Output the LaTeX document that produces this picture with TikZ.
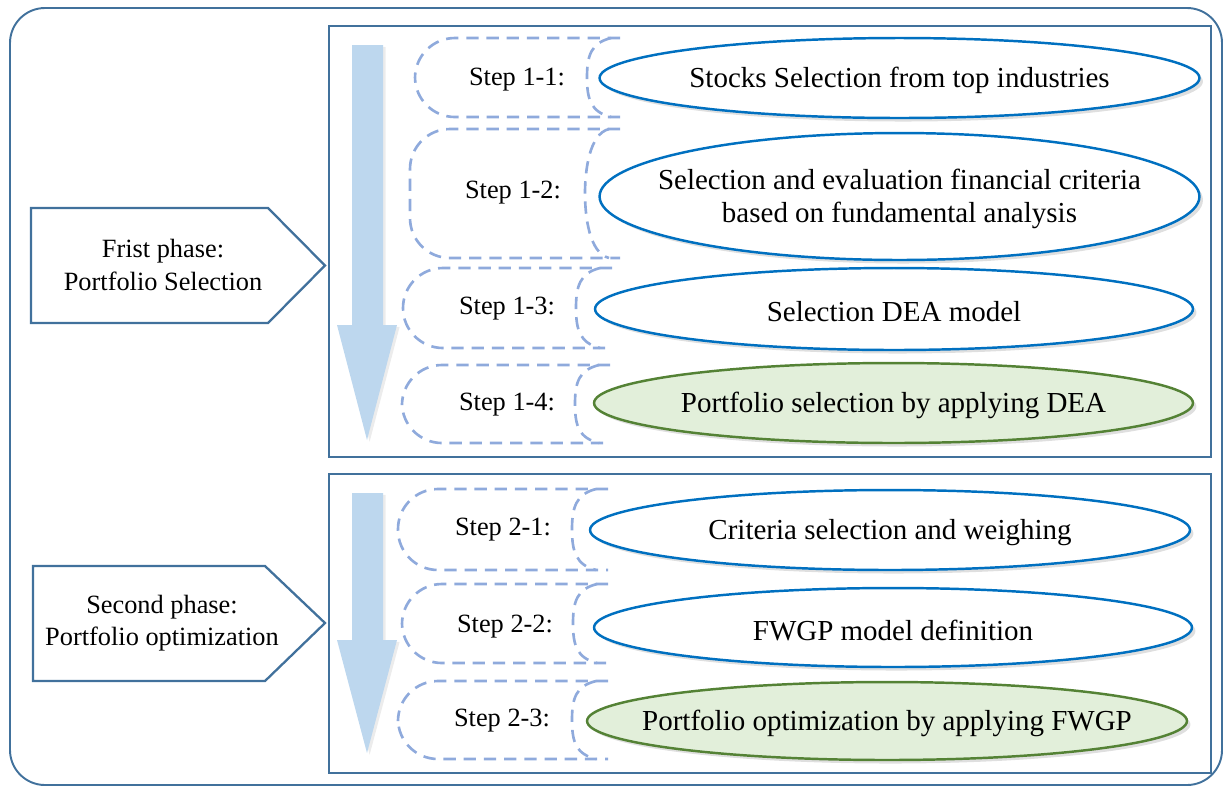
\documentclass[tikz,border=0pt]{standalone}
\usepackage{fontspec}
\setmainfont{Liberation Serif}
\usetikzlibrary{shapes.geometric,shadows}
\definecolor{panelblue}{RGB}{65,113,156}
\definecolor{ovalblue}{RGB}{0,112,192}
\definecolor{dashblue}{RGB}{143,170,220}
\definecolor{arrowfill}{RGB}{189,215,238}
\definecolor{ovalgreen}{RGB}{84,130,53}
\definecolor{greenfill}{RGB}{226,239,218}
\tikzset{
  panel/.style={draw=panelblue, line width=1.6pt},
  phasebox/.style={draw=panelblue, line width=1.3pt, fill=white},
  phasetext/.style={align=center, font=\fontsize{15}{18.5}\selectfont},
  downarrow/.style={fill=arrowfill, draw=none,
    drop shadow={shadow xshift=1.5pt, shadow yshift=-1pt, opacity=.15}},
  tabline/.style={draw=dashblue, line width=1.5pt,
    dash pattern=on 7pt off 4.5pt, rounded corners=0.8cm},
  arcline/.style={draw=dashblue, line width=1.5pt,
    dash pattern=on 7pt off 4.5pt},
  steplabel/.style={font=\fontsize{15}{18}\selectfont},
  tasktext/.style={align=center, yshift=-1.5pt, font=\fontsize{16.5}{18.5}\selectfont},
  task/.style={ellipse, draw=ovalblue, line width=1.4pt, fill=white,
    inner sep=0pt, minimum width=12cm, minimum height=1.6cm,
    drop shadow={shadow xshift=2pt, shadow yshift=-2pt, opacity=.25},
    label={[tasktext]center:#1}},
  result/.style={task={#1}, draw=ovalgreen, fill=greenfill}
}
% left, top, bottom, inner arc x, right
\newcommand{\steptab}[5]{%
  \draw[tabline] (#5,#2) -- (#1,#2) -- (#1,#3) -- (#5,#3);
  \draw[arcline] ({#4+24},#2) .. controls ({#4+4},{#2+5}) and (#4,{(#2+#3)/2-22})
    .. (#4,{(#2+#3)/2}) .. controls (#4,{(#2+#3)/2+22}) and ({#4+4},{#3-5}) .. ({#4+24},#3);
}
\begin{document}
\begin{tikzpicture}[x=0.02cm, y=-0.02cm]
  \useasboundingbox (0,0) rectangle (1226,789);
  % frame and panels
  \draw[draw=panelblue, line width=1.1pt, rounded corners=0.7cm] (10,8) rectangle (1222,785);
  \draw[panel] (329,26) rectangle (1211,457);
  \draw[panel] (329,474) rectangle (1211,773);

  % phases
  \draw[phasebox] (31,208) -- (268,208) -- (325,265.5) -- (268,323) -- (31,323) -- cycle;
  \node[phasetext] (phaseA) at (163,265) {Frist phase:\\Portfolio Selection};
  \draw[phasebox] (33,566) -- (265,566) -- (325,623) -- (265,681) -- (33,681) -- cycle;
  \node[phasetext] (phaseB) at (162,623) {Second phase:\\Portfolio optimization};

  % down arrows
  \fill[downarrow] (352,45) -- (383,45) -- (383,325) -- (397,325) -- (367,440)
    -- (337,325) -- (352,325) -- cycle;
  \fill[downarrow] (352,493) -- (383,493) -- (383,640) -- (397,640) -- (367,753)
    -- (337,640) -- (352,640) -- cycle;

  % dashed step tabs
  \steptab{415}{38}{117}{587}{620}
  \steptab{410}{129}{258}{585}{620}
  \steptab{403}{268}{348}{576}{612}
  \steptab{402}{365}{443}{575}{610}
  \steptab{398}{489}{570}{572}{608}
  \steptab{402}{584}{663}{573}{608}
  \steptab{398}{681}{759}{572}{608}

  % first phase steps
  \node[steplabel] (s11) at (517,80) {Step 1-1:};
  \node[task={Stocks Selection from top industries}] (t11) at (899.5,78) {};
  \node[steplabel] (s12) at (513,193) {Step 1-2:};
  \node[task={Selection and evaluation financial criteria\\based on fundamental analysis},
    minimum height=2.54cm] (t12) at (899.5,196.5) {};
  \node[steplabel] (s13) at (507,309) {Step 1-3:};
  \node[task={Selection DEA model}, minimum width=11.96cm, minimum height=1.64cm] (t13) at (894,309) {};
  \node[steplabel] (s14) at (507,405) {Step 1-4:};
  \node[result={Portfolio selection by applying DEA}, minimum width=11.98cm] (t14) at (893.5,403) {};

  % second phase steps
  \node[steplabel] (s21) at (503,530) {Step 2-1:};
  \node[task={Criteria selection and weighing}] (t21) at (890,530) {};
  \node[steplabel] (s22) at (505,627) {Step 2-2:};
  \node[task={FWGP model definition}, minimum width=11.96cm, minimum height=1.58cm] (t22) at (893,627.5) {};
  \node[steplabel] (s23) at (502,721) {Step 2-3:};
  \node[result={Portfolio optimization by applying FWGP}, minimum height=1.56cm] (t23) at (887,721) {};
\end{tikzpicture}
\end{document}
